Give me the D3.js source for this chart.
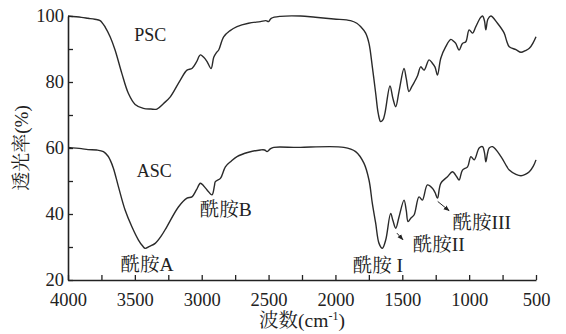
<!DOCTYPE html>
<html>
<head>
<meta charset="utf-8">
<script src="https://cdn.jsdelivr.net/npm/d3@7"></script>
<style>
  body { margin: 0; background: #fff; }
  svg text { font-family: "Liberation Serif", "Times New Roman", "Noto Serif CJK SC", "Noto Sans CJK SC", serif; fill: #222; }
  .tick text { font-size: 18.5px; }
</style>
</head>
<body>
<svg id="chart" width="566" height="334"></svg>
<script>
// PSC 光谱 (波数, 透光率)
const pscWn = [4000, 3900, 3850, 3800, 3760, 3720, 3685, 3648, 3598, 3548, 3498, 3436, 3380, 3335, 3285, 3235, 3160, 3110, 3073, 3040, 3010, 2985, 2960, 2930, 2910, 2890, 2873, 2836, 2790, 2736, 2650, 2561, 2520, 2500, 2480, 2411, 2261, 2150, 2012, 1887, 1840, 1812, 1774, 1749, 1724, 1699, 1680, 1662, 1645, 1630, 1592, 1570, 1549, 1525, 1487, 1470, 1450, 1430, 1412, 1385, 1362, 1337, 1300, 1275, 1255, 1237, 1212, 1175, 1137, 1115, 1100, 1075, 1050, 1025, 1000, 975, 950, 915, 900, 885, 875, 860, 838, 788, 738, 720, 700, 650, 612, 580, 550, 520, 500];
const pscT = [100, 99.6, 99.3, 99.0, 98.6, 96.5, 93.7, 89.7, 82.7, 76.5, 73.2, 72, 71.8, 71.8, 73.5, 75.5, 80.6, 83.6, 84.1, 86, 88.2, 87.5, 86.2, 84.1, 87.5, 88.9, 89.7, 93.7, 95.5, 96.8, 97.8, 98.3, 98.6, 98.3, 99.3, 99.9, 100, 99.6, 99.1, 98.6, 97.8, 96.8, 94.8, 91.7, 84.6, 76.6, 70.5, 68, 68.5, 70.5, 78.8, 75, 72.5, 77, 84.1, 81, 77.1, 78.5, 79.8, 82, 84.6, 83.6, 86.7, 85.7, 84.5, 82.1, 87.2, 90.7, 92.9, 92.3, 91.7, 89.7, 91.7, 92.2, 95.8, 94.8, 96.8, 99.5, 100, 98.5, 95.8, 99, 100, 97.8, 94.8, 92.5, 90.7, 89.8, 89, 89.5, 90.2, 92, 93.7];

// ASC 光谱 (波数, 透光率)
const ascWn = [4000, 3900, 3850, 3785, 3735, 3700, 3685, 3660, 3623, 3573, 3523, 3473, 3440, 3423, 3390, 3348, 3300, 3260, 3173, 3110, 3073, 3040, 3010, 2985, 2960, 2923, 2905, 2898, 2860, 2823, 2780, 2736, 2650, 2561, 2530, 2511, 2485, 2461, 2311, 2261, 1937, 1849, 1787, 1749, 1724, 1699, 1674, 1649, 1624, 1587, 1570, 1549, 1525, 1487, 1470, 1457, 1435, 1412, 1375, 1350, 1312, 1275, 1255, 1237, 1212, 1162, 1125, 1093, 1075, 1050, 1012, 987, 962, 925, 900, 885, 875, 862, 850, 825, 762, 720, 700, 650, 612, 580, 550, 520, 500];
const ascT = [60.2, 59.8, 59.5, 59.4, 58.9, 57.5, 56.4, 53.8, 48.3, 41.2, 36.2, 32.1, 30.2, 29.6, 30.2, 31.1, 33.5, 36.2, 42.2, 44.8, 45.2, 47.3, 49.3, 48.5, 47.3, 45.8, 48.5, 49.8, 50.8, 54.3, 56, 57.4, 58.7, 59.4, 59.4, 58.9, 59.8, 60.2, 60.2, 60.2, 60.2, 58.9, 55.4, 50.3, 43.2, 37.2, 31.1, 29.6, 32.1, 40.2, 38, 35.7, 39, 44.2, 41, 37.7, 38.8, 39.7, 45.2, 44.2, 48.8, 47.8, 46.5, 44.8, 49.3, 51.3, 52.8, 51.3, 50.3, 53.3, 54.3, 57.4, 56.4, 60, 60.4, 58.5, 55.8, 58.5, 60, 60.4, 57.4, 54.5, 53.3, 52, 51.6, 52, 52.8, 54.5, 56.4];

// 刻度
const xTicks = [4000, 3500, 3000, 2500, 2000, 1500, 1000, 500];
const yTicks = [20, 40, 60, 80, 100];

// 标注文字 (文字, 波数, 透光率)
const labelText = ["PSC", "ASC", "酰胺A", "酰胺B", "酰胺 I", "酰胺II", "酰胺III"];
const labelWn = [3385, 3355, 3408, 2820, 1683, 1227, 905];
const labelT = [92.4, 51.2, 22.7, 39.4, 22.4, 28.8, 35.5];

const svg = d3.select("#chart");

const x = d3.scaleLinear().domain([4000, 500]).range([68, 536]);
const y = d3.scaleLinear().domain([20, 100]).range([280, 16]);

const line = d3.line()
  .x((d) => x(d[0]))
  .y((d) => y(d[1]))
  .curve(d3.curveCatmullRom.alpha(0.5));

const series = [
  d3.zip(pscWn, pscT),
  d3.zip(ascWn, ascT),
];

svg.selectAll(".spec")
  .data(series)
  .enter()
  .append("path")
  .attr("class", "spec")
  .attr("d", line)
  .attr("fill", "none")
  .attr("stroke", "#2a2a2a")
  .attr("stroke-width", 1.4)
  .attr("stroke-linejoin", "round");

// 坐标轴 (刻度朝内)
const xAxis = svg.append("g")
  .attr("transform", `translate(0,${y(20)})`)
  .call(d3.axisBottom(x).tickValues(d3.range(4000, 499, -250)).tickSizeInner(-5).tickSizeOuter(0)
    .tickFormat((d) => (xTicks.includes(d) ? d : "")));
xAxis.selectAll(".tick text").attr("dy", "0").attr("y", 26);

const yAxis = svg.append("g")
  .attr("transform", `translate(${x(4000)},0)`)
  .call(d3.axisLeft(y).tickValues(d3.range(20, 101, 10)).tickSizeInner(-5).tickSizeOuter(0)
    .tickFormat((d) => (yTicks.includes(d) ? d : "")));
yAxis.selectAll(".tick text").attr("x", -4).attr("dy", "0.3em");

svg.selectAll(".domain").attr("stroke", "#222").attr("stroke-width", 1.6);
svg.selectAll(".tick line").attr("stroke", "#222").attr("stroke-width", 1.3);

// 轴标题
svg.append("text")
  .attr("x", (x(4000) + x(500)) / 2)
  .attr("y", 327)
  .attr("text-anchor", "middle")
  .attr("font-size", 19.5)
  .html('波数(cm<tspan dy="-7" font-size="12">-1</tspan><tspan dy="7">)</tspan>');

svg.append("text")
  .attr("transform", `translate(28,${(y(20) + y(100)) / 2}) rotate(-90)`)
  .attr("text-anchor", "middle")
  .attr("font-size", 19)
  .text("透光率(%)");

// 标注
svg.selectAll(".lab")
  .data(labelText)
  .enter()
  .append("text")
  .attr("class", "lab")
  .attr("x", (d, i) => x(labelWn[i]))
  .attr("y", (d, i) => y(labelT[i]))
  .attr("text-anchor", "middle")
  .attr("font-size", (d, i) => (i < 2 ? 18 : 19.5))
  .text((d) => d);

// 箭头
svg.append("defs").append("marker")
  .attr("id", "arr")
  .attr("viewBox", "0 0 10 10")
  .attr("refX", 9).attr("refY", 5)
  .attr("markerWidth", 6).attr("markerHeight", 6)
  .attr("orient", "auto")
  .append("path")
  .attr("d", "M0,1L10,5L0,9Z")
  .attr("fill", "#222");

const arrows = [[1540, 34.2, 1495, 32.2], [1235, 43.8, 1150, 41.0]];
svg.selectAll(".arrow")
  .data(arrows)
  .enter()
  .append("line")
  .attr("x1", (d) => x(d[0])).attr("y1", (d) => y(d[1]))
  .attr("x2", (d) => x(d[2])).attr("y2", (d) => y(d[3]))
  .attr("stroke", "#222")
  .attr("stroke-width", 1)
  .attr("marker-end", "url(#arr)");
</script>
</body>
</html>
